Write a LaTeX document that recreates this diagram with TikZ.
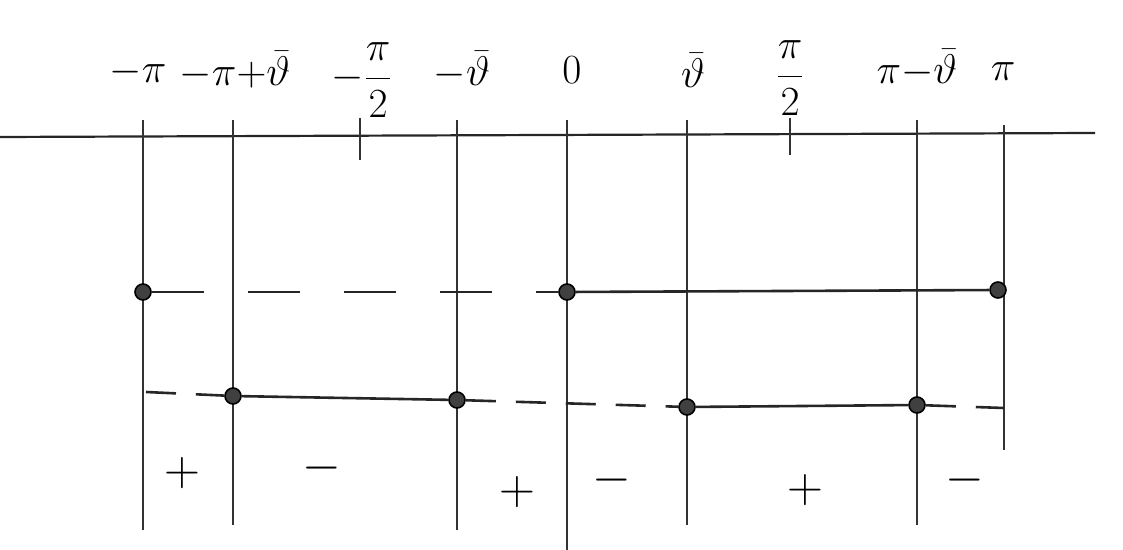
\documentclass[tikz,border=0pt]{standalone}
\usepackage{amsmath}
\usepackage{xcolor}
\usepackage{tikz}

\begin{document}
\begin{tikzpicture}[
x=0.5pt,y=-0.5pt,
lbl/.style={font=\fontsize{20}{24}\selectfont,inner sep=0pt},
sgn/.style={font=\fontsize{24}{28}\selectfont,inner sep=0pt},
dot/.style={circle,fill=black!75,draw=black,line width=.8pt,minimum size=8pt,inner sep=0pt},
axis/.style={line width=1.1pt,black!85},
vline/.style={line width=.8pt,black!80},
sol/.style={line width=1.3pt,black!85},
dshlong/.style={line width=1.3pt,black!85,dash pattern=on 26pt off 22pt},
dshshort/.style={line width=1.3pt,black!85,dash pattern=on 15pt off 10pt}
]
\useasboundingbox (0,0) rectangle (1123,550);
% axis with tick labels
\coordinate (axl) at (0,137);
\coordinate (axr) at (1095,133);
\draw[axis] (axl)--(axr);
\node[lbl] (lmpi) at (138,72) {$-\pi$};
\node[lbl] (lmpt) at (235,70) {$-\pi{+}\bar{\vartheta}$};
\node[lbl] (lmhalf) at (362,80) {$-\dfrac{\pi}{2}$};
\node[lbl] (lmth) at (462,70) {$-\bar{\vartheta}$};
\node[lbl] (lzero) at (572,70) {$0$};
\node[lbl] (lth) at (693,70) {$\bar{\vartheta}$};
\node[lbl] (lhalf) at (790,78) {$\dfrac{\pi}{2}$};
\node[lbl] (lpmt) at (917,68) {$\pi{-}\bar{\vartheta}$};
\node[lbl] (lpi) at (1003,72) {$\pi$};
% vertical lines and ticks
\coordinate (mpit) at (143,120);  \coordinate (mpib) at (143,530);
\coordinate (mptt) at (233,120);  \coordinate (mptb) at (233,525);
\coordinate (mhalft) at (360,118); \coordinate (mhalfb) at (360,160);
\coordinate (mtht) at (457,120);  \coordinate (mthb) at (457,530);
\coordinate (zerot) at (567,120); \coordinate (zerob) at (567,550);
\coordinate (tht) at (687,120);   \coordinate (thb) at (687,525);
\coordinate (halft) at (790,118); \coordinate (halfb) at (790,155);
\coordinate (pmtt) at (917,120);  \coordinate (pmtb) at (917,525);
\coordinate (pit) at (1004,125);  \coordinate (pib) at (1004,450);
\draw[vline] (mpit)--(mpib);
\draw[vline] (mptt)--(mptb);
\draw[vline] (mhalft)--(mhalfb);
\draw[vline] (mtht)--(mthb);
\draw[vline] (zerot)--(zerob);
\draw[vline] (tht)--(thb);
\draw[vline] (halft)--(halfb);
\draw[vline] (pmtt)--(pmtb);
\draw[vline] (pit)--(pib);
% upper level
\node[dot] (up1) at (143,292) {};
\node[dot] (up2) at (567,292) {};
\node[dot] (up3) at (998,290) {};
\draw[dshlong] (up1)--(up2);
\draw[sol] (up2)--(up3);
% lower level
\coordinate (lowl) at (146,392);
\coordinate (lowr) at (1004,408);
\node[dot] (lo1) at (233,396) {};
\node[dot] (lo2) at (457,400) {};
\node[dot] (lo3) at (687,407) {};
\node[dot] (lo4) at (917,405) {};
\draw[dshshort] (lowl)--(lo1);
\draw[sol] (lo1)--(lo2);
\draw[dshshort] (lo2)--(lo3);
\draw[sol] (lo3)--(lo4);
\draw[dshshort] (lo4)--(lowr);
% signs
\node[sgn] (s1) at (182,473) {$+$};
\node[sgn] (s2) at (322,468) {$-$};
\node[sgn] (s3) at (517,492) {$+$};
\node[sgn] (s4) at (612,480) {$-$};
\node[sgn] (s5) at (805,490) {$+$};
\node[sgn] (s6) at (965,480) {$-$};
\end{tikzpicture}
\end{document}
